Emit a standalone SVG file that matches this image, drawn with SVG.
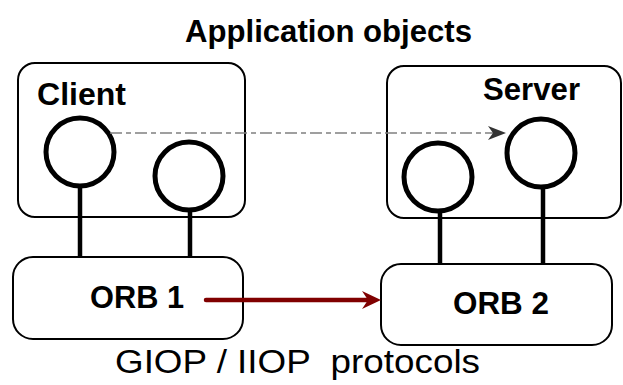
<svg xmlns="http://www.w3.org/2000/svg" width="623" height="385" viewBox="0 0 623 385">
<style>
.box{fill:#fff;stroke:#000;stroke-width:2}
.obj{fill:#fff;stroke:#000;stroke-width:5}
.stick{stroke:#000;stroke-width:4.5}
.bold{font-family:"Liberation Sans",Arial,sans-serif;font-weight:bold;font-size:32px;fill:#000}
.reg{font-family:"Liberation Sans",Arial,sans-serif;font-size:34px;fill:#000}
</style>
<rect width="623" height="385" fill="#fff"/>
<text class="bold" x="185" y="42" textLength="287" lengthAdjust="spacingAndGlyphs">Application objects</text>
<g id="client">
<rect class="box" x="18" y="63" width="227" height="154" rx="17"/>
<text class="bold" x="37" y="105" textLength="89" lengthAdjust="spacingAndGlyphs">Client</text>
</g>
<g id="server">
<rect class="box" x="387" y="66" width="234" height="152" rx="17"/>
<text class="bold" x="483" y="100" textLength="97" lengthAdjust="spacingAndGlyphs">Server</text>
</g>
<g id="orb1">
<rect class="box" x="13" y="257" width="230" height="82" rx="20"/>
<text class="bold" x="90" y="308" textLength="94" lengthAdjust="spacingAndGlyphs">ORB 1</text>
</g>
<g id="orb2">
<rect class="box" x="381" y="264" width="231" height="81" rx="20"/>
<text class="bold" x="453" y="314" textLength="96" lengthAdjust="spacingAndGlyphs">ORB 2</text>
</g>
<g id="client-obj1"><line class="stick" x1="80" y1="186" x2="80" y2="257"/><circle class="obj" cx="80" cy="152" r="34"/></g>
<g id="client-obj2"><line class="stick" x1="190" y1="210" x2="190" y2="257"/><circle class="obj" cx="189" cy="176" r="34"/></g>
<g id="server-obj1"><line class="stick" x1="440" y1="211" x2="440" y2="264"/><circle class="obj" cx="438" cy="177" r="34"/></g>
<g id="server-obj2"><line class="stick" x1="543" y1="187" x2="543" y2="264"/><circle class="obj" cx="541" cy="153" r="34"/></g>
<g id="connectors">
<line x1="110" y1="133" x2="498" y2="133" stroke="#808080" stroke-width="1.6" stroke-dasharray="12,4,5,4"/>
<path d="M488,126 L506,133 L488,140 L493,133 Z" fill="#333"/>
<line x1="206" y1="300" x2="370" y2="300" stroke="#800000" stroke-width="4.5" stroke-linecap="round"/>
<path d="M362,291 L381,300 L362,309 L368,300 Z" fill="#800000"/>
</g>
<text class="reg" x="115" y="373" textLength="365" lengthAdjust="spacingAndGlyphs" xml:space="preserve">GIOP / IIOP  protocols</text>
</svg>
